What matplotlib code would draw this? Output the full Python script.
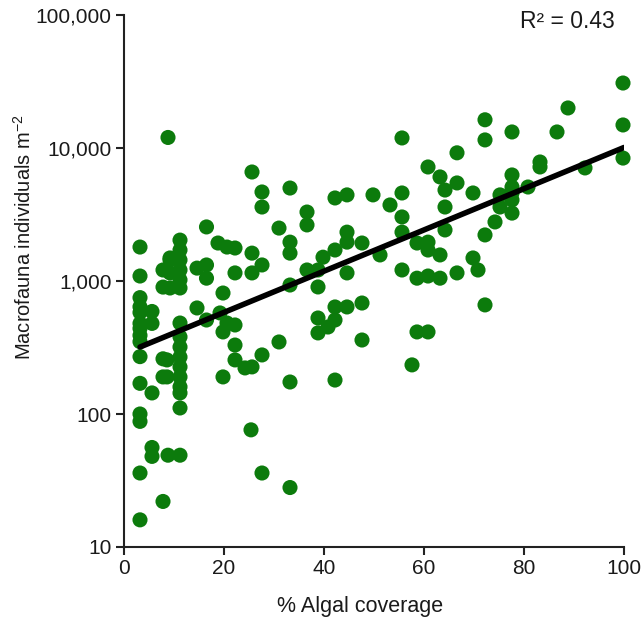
import numpy as np
import matplotlib
matplotlib.use("Agg")
import matplotlib.pyplot as plt
from matplotlib.ticker import FixedLocator, FuncFormatter

plt.rcParams['font.family'] = ['Liberation Sans', 'DejaVu Sans']

# % algal coverage (x) and macrofauna individuals per m2 (y)
coverage = [
    3.2, 3.2, 3.2, 3.2, 3.2, 3.2, 3.2, 3.2, 3.2, 3.2, 3.2, 3.2, 3.2, 3.2, 3.2,
    5.6, 5.6, 5.6, 5.6, 5.6,
    7.8, 7.8, 7.8, 7.8, 7.8,
    8.8, 8.8, 9.2, 9.2, 8.6, 8.6, 9.2, 9.2,
    11.2, 11.2, 11.2, 11.2, 11.2, 11.2, 11.2, 11.2, 11.2, 11.2, 11.2, 11.2, 11.2, 11.2, 11.2, 11.2,
    14.6, 14.6,
    16.5, 16.5, 16.5, 16.5,
    18.8, 19.2, 19.8, 19.8, 19.8, 20.6, 20.6,
    22.2, 22.2, 22.2, 22.2, 22.2,
    24.2, 25.4, 25.6, 25.6, 25.6, 25.6,
    27.6, 27.6, 27.6, 27.6, 27.6,
    31.0, 31.0,
    33.2, 33.2, 33.2, 33.2, 33.2, 33.2,
    36.6, 36.6, 36.6,
    38.8, 38.8, 38.8, 38.8, 39.8, 40.8,
    42.2, 42.2, 42.2, 42.2, 42.2,
    44.6, 44.6, 44.6, 44.6, 44.6,
    47.6, 47.6, 47.6, 49.8, 51.2, 53.2,
    55.6, 55.6, 55.6, 55.6, 55.6, 57.6,
    58.6, 58.6, 58.6,
    60.8, 60.8, 60.8, 60.8, 60.8,
    63.2, 63.2, 63.2, 64.2, 64.2, 64.2,
    66.6, 66.6, 66.6, 69.8, 69.8, 70.8,
    72.2, 72.2, 72.2, 72.2, 74.2,
    75.2, 75.2, 77.6, 77.6, 77.6, 77.6, 77.6, 77.6,
    80.8, 83.2, 83.2, 86.6, 88.8, 92.2,
    99.8, 99.8, 99.8,
]
abundance = [
    1800, 1090, 750, 640, 580, 480, 440, 390, 350, 270, 170, 100, 88, 36, 16,
    590, 480, 144, 56, 48,
    1210, 900, 260, 190, 22,
    12000, 49, 1440, 886, 255, 190, 1490, 1150,
    2030, 1710, 1440, 1210, 1020, 886, 483, 380, 319, 268, 226, 190, 160, 144, 111, 49,
    1250, 627,
    2550, 1320, 1050, 509,
    1930, 575, 812, 414, 190, 1800, 483,
    1770, 1150, 467, 330, 255,
    222, 76, 6600, 1620, 1150, 226,
    4670, 3600, 1320, 278, 36,
    2500, 348,
    5000, 1960, 1620, 933, 174, 28,
    3300, 2640, 1210,
    1210, 902, 527, 407, 1510, 451,
    4210, 1710, 638, 509, 180,
    4440, 2330, 1960, 1150, 638,
    1930, 683, 360, 4440, 1570, 3730,
    11900, 4590, 3030, 2330, 1210, 234,
    1930, 1050, 414,
    7200, 1960, 1710, 1090, 414,
    6060, 1570, 1050, 4830, 3600, 2420,
    9200, 5460, 1150, 4590, 1490, 1210,
    16300, 11500, 2220, 661, 2780,
    4440, 3600, 13200, 6270, 5090, 4590, 4070, 3240,
    5090, 7850, 7200, 13200, 20000, 7080,
    30800, 14900, 8400,
]

# regression on log10 scale
fit_intercept = 2.454
fit_slope = 0.0155
fit_range = [3.2, 100.0]
r_squared = 0.43

x_ticks = [0, 20, 40, 60, 80, 100]
y_ticks = [10, 100, 1000, 10000, 100000]

fig = plt.figure(figsize=(6.41, 6.21), dpi=100)
ax = fig.add_axes([124/641, 1 - 547/621, 500/641, 532/621])

ax.scatter(coverage, abundance, s=118, color='#0c7b0c', edgecolors='none', zorder=2, clip_on=False)

xl = np.array(fit_range)
ax.plot(xl, 10 ** (fit_intercept + fit_slope * xl), color='black', lw=4, solid_capstyle='round', zorder=3)

ax.set_yscale('log')
ax.set_xlim(0, 100)
ax.set_ylim(10, 100000)
ax.yaxis.set_major_locator(FixedLocator(y_ticks))
ax.yaxis.set_minor_locator(FixedLocator([]))
ax.yaxis.set_major_formatter(FuncFormatter(lambda v, p: f"{int(round(v)):,}"))
ax.set_xticks(x_ticks)

for s in ['top', 'right']:
    ax.spines[s].set_visible(False)
for s in ['left', 'bottom']:
    ax.spines[s].set_linewidth(1.5)
    ax.spines[s].set_color('#222222')
ax.tick_params(axis='both', direction='out', length=6, width=1.5, color='#222222',
               labelsize=15, labelcolor='#1a1a1a', pad=3)

ax.set_xlabel('% Algal coverage', fontsize=15.5, color='#1a1a1a')
ax.xaxis.set_label_coords(0.472, -0.092)
ax.set_ylabel('Macrofauna individuals m$^{\\mathregular{-2}}$', fontsize=14.5, color='#1a1a1a')
ax.yaxis.set_label_coords(-0.178, 0.583)

ax.text(0.982, 0.988, f'R\u00b2 = {r_squared:.2f}', transform=ax.transAxes, ha='right', va='center',
        fontsize=16.5, color='#1a1a1a')

fig.savefig('out.png', dpi=100)
